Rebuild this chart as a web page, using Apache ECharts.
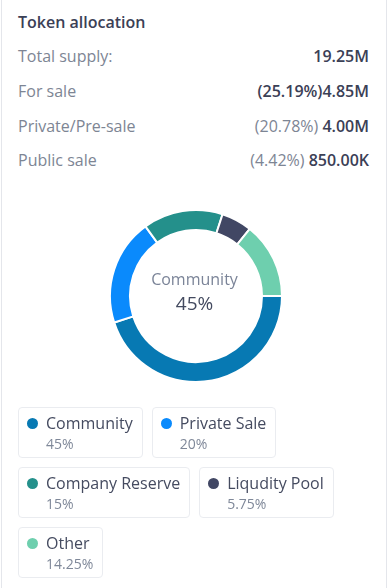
<!DOCTYPE html>
<html>
<head>
<meta charset="utf-8">
<script src="https://cdn.jsdelivr.net/npm/echarts@6/dist/echarts.min.js"></script>
<style>
  html, body { margin:0; padding:0; width:389px; height:588px; overflow:hidden; background:#fff; font-family:"Open Sans", sans-serif; }
  #card { position:absolute; left:1px; top:-2px; width:386px; height:600px; border:1px solid #e4e6eb; box-sizing:border-box; }
  #title { position:absolute; left:18px; top:11px; font-size:16px; font-weight:600; color:#3b4056; line-height:22px; }
  .row { position:absolute; left:18px; width:351px; font-size:16px; line-height:22px; color:#7d8594; }
  .row .v { position:absolute; right:0; top:0; }
  .b { font-weight:600; color:#3b4056; }
  #chart { position:absolute; left:0; top:0; width:389px; height:588px; }
  #legend { position:absolute; left:18px; top:407px; width:365px; display:flex; flex-wrap:wrap; gap:9px; }
  .item { box-sizing:border-box; height:51px; border:1px solid #eaecf0; border-radius:4px; padding:5px 9px 4px 8px; background:#fff; }
  .item .n { font-size:16px; line-height:20px; color:#454b60; display:flex; align-items:center; white-space:nowrap; }
  .item .dot { width:11px; height:11px; border-radius:50%; margin-right:8px; flex:none; }
  .item .p { font-size:14px; line-height:21px; color:#7f8899; padding-left:19px; }
</style>
</head>
<body>
<div id="card"></div>
<div id="title">Token allocation</div>
<div id="rows"></div>
<div id="chart"></div>
<div id="legend"></div>
<script>
const summaryLabels = ["Total supply:", "For sale", "Private/Pre-sale", "Public sale"];
const summaryPercents = ["", "(25.19%)", "(20.78%) ", "(4.42%) "];
const summaryValues = ["19.25M", "4.85M", "4.00M", "850.00K"];
const summaryPercentBold = [false, true, false, false];

const categories = ["Community", "Private Sale", "Company Reserve", "Liqudity Pool", "Other"];
const shares = [45, 20, 15, 5.75, 14.25];
const colors = ["#0779b3", "#0a8afc", "#24908b", "#414764", "#6ecfae"];

const rowTops = [45, 80, 115, 149];
const rowsEl = document.getElementById('rows');
summaryLabels.forEach((l, i) => {
  const d = document.createElement('div');
  d.className = 'row';
  d.style.top = rowTops[i] + 'px';
  const pc = summaryPercents[i] ? `<span class="${summaryPercentBold[i] ? 'b' : ''}">${summaryPercents[i]}</span>` : '';
  d.innerHTML = `${l}<span class="v">${pc}<span class="b">${summaryValues[i]}</span></span>`;
  rowsEl.appendChild(d);
});

const legendEl = document.getElementById('legend');
categories.forEach((c, i) => {
  const d = document.createElement('div');
  d.className = 'item';
  d.innerHTML = `<div class="n"><span class="dot" style="background:${colors[i]}"></span>${c}</div><div class="p">${shares[i]}%</div>`;
  legendEl.appendChild(d);
});

const chart = echarts.init(document.getElementById('chart'), null, { renderer: 'canvas' });
chart.setOption({
  animation: false,
  color: colors,
  series: [{
    type: 'pie',
    center: [196, 296],
    radius: [66, 86],
    startAngle: 0,
    clockwise: true,
    label: { show: false },
    labelLine: { show: false },
    silent: true,
    itemStyle: { borderColor: '#fff', borderWidth: 2 },
    data: categories.map((c, i) => ({ name: c, value: shares[i] }))
  }],
  graphic: [
    { type: 'text', x: 194.5, y: 280, silent: true,
      style: { text: categories[0], align: 'center', verticalAlign: 'middle',
        font: '16px "Open Sans"', fill: '#7b8498' } },
    { type: 'text', x: 194.5, y: 305, silent: true,
      style: { text: shares[0] + '%', align: 'center', verticalAlign: 'middle',
        font: '19px "Open Sans"', fill: '#434a5f' } }
  ]
});
</script>
</body>
</html>
